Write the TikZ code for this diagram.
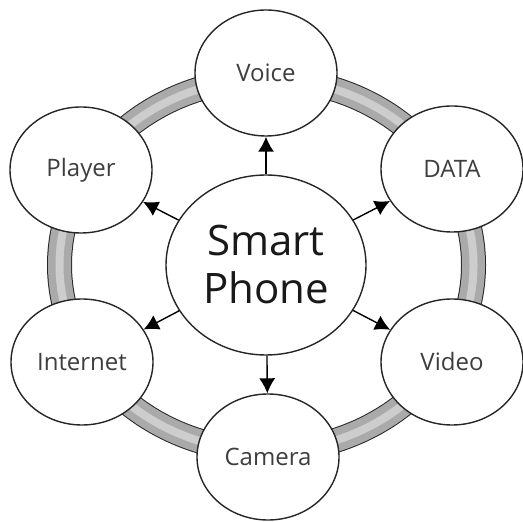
\documentclass[tikz,border=0pt]{standalone}
\usepackage{fontspec}
\setmainfont{Open Sans}
\usetikzlibrary{arrows.meta, shapes.geometric}
\definecolor{ringgray}{RGB}{170,170,170}
\definecolor{ringlight}{RGB}{205,205,205}
\definecolor{labelgray}{RGB}{62,62,62}
\tikzset{
  feature/.style={ellipse, draw=black!85, line width=0.7pt, fill=white, inner sep=0pt,
    minimum width=71pt, minimum height=63pt, font=\fontsize{12}{14}\selectfont, text=labelgray},
  hub/.style={ellipse, draw=black!85, line width=0.7pt, fill=white, inner sep=0pt,
    minimum width=100pt, minimum height=90pt, align=center,
    font=\fontsize{21}{24}\selectfont, text=black!90},
  link/.style={-{Latex[length=7.5pt,width=8pt]}, line width=0.7pt}
}

\begin{document}
\begin{tikzpicture}[x=0.5pt,y=-0.5pt]
  \useasboundingbox (0,0) rectangle (523,522);

  % ring behind the nodes
  \draw[line width=12.5pt, black!85] (266.5,265) ellipse [x radius=207, y radius=186];
  \draw[line width=11.5pt, ringgray] (266.5,265) ellipse [x radius=207, y radius=186];
  \draw[line width=4pt, ringlight] (266.5,265) ellipse [x radius=207, y radius=186];

  \node[hub] (phone) at (266,265) {Smart\\Phone};

  \node[feature] (voice) at (266,73) {Voice};
  \node[feature] (data) at (452,169) {DATA};
  \node[feature] (video) at (452,362) {Video};
  \node[feature] (camera) at (268,457) {Camera};
  \node[feature] (internet) at (82,362) {Internet};
  \node[feature] (player) at (81,170) {Player};

  \draw[link] (phone) -- (voice);
  \draw[link] (phone) -- (data);
  \draw[link] (phone) -- (video);
  \draw[link] (phone) -- (camera);
  \draw[link] (phone) -- (internet);
  \draw[link] (phone) -- (player);
\end{tikzpicture}
\end{document}
